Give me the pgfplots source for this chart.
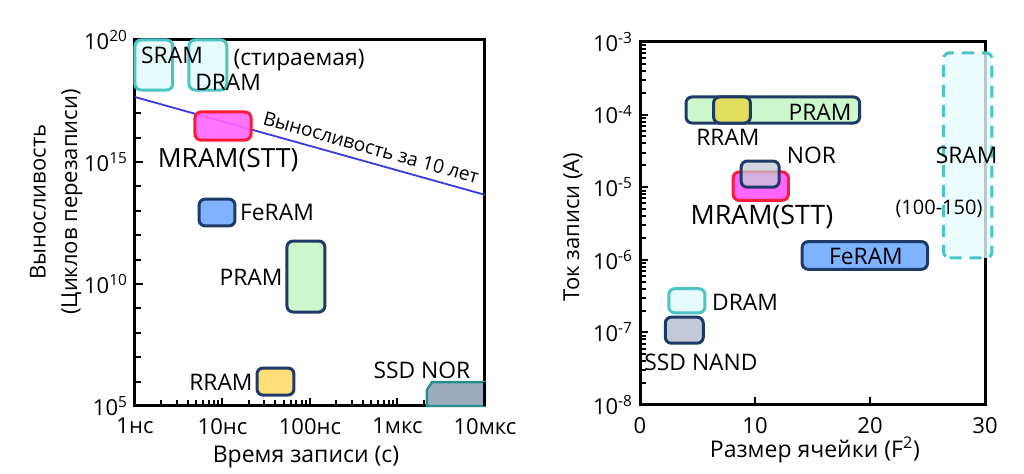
\documentclass[border=0pt]{standalone}
\usepackage{fontspec}
\setmainfont{Open Sans}
\usepackage{pgfplots}
\pgfplotsset{compat=1.18}
\definecolor{cyl}{HTML}{4CC4C4}
\definecolor{cyf}{HTML}{E6FBFB}
\definecolor{navy}{HTML}{1F3A66}
\definecolor{mag}{HTML}{FF66FF}
\definecolor{redl}{HTML}{FF1A3A}
\definecolor{feb}{HTML}{80B3FF}
\definecolor{grn}{HTML}{CCF7CC}
\definecolor{yelL}{HTML}{FFDD77}
\definecolor{yelR}{HTML}{E2DF5E}
\definecolor{gryN}{HTML}{C3CAD6}
\definecolor{gryS}{HTML}{9AABBB}
\definecolor{teal2}{HTML}{2A8C8C}
\definecolor{lineb}{HTML}{3A3AE0}
\newcommand\rbox[5]{\addplot[line width=1.5pt, rounded corners=3pt, #1] coordinates {(#2,#3) (#4,#3) (#4,#5) (#2,#5)} -- cycle;}
\newcommand\lab{\fontsize{11.4}{13}\selectfont}
\begin{document}
\begin{tikzpicture}
\useasboundingbox (0,0) rectangle (512pt,237pt);
\pgfplotsset{
  every axis/.append style={
    scale only axis, anchor=south west, clip=false,
    axis line style={line width=1.5pt},
    tick pos=left, tick align=inside,
    major tick length=4pt, minor tick length=3pt,
    tick style={line width=1pt, black},
    tick label style={font=\fontsize{11}{13}\selectfont},
    xticklabel style={yshift=-2.5pt},
  }
}
% ---------------- left panel ----------------
\begin{axis}[at={(67.5pt,34pt)}, width=175pt, height=183pt,
  xmode=log, ymode=log, xmin=1e-9, xmax=1e-5, ymin=1e5, ymax=1e20,
  xtick={1e-9,1e-8,1e-7,1e-6,1e-5},
  xticklabels={1нс,10нс,100нс,1мкс,10мкс},
  minor xtick={},
  ytick={1e5,1e10,1e15,1e20},
  yticklabels={10\textsuperscript{5},10\textsuperscript{10},10\textsuperscript{15},10\textsuperscript{20}},
  minor ytick={1e6,1e7,1e8,1e9,1e11,1e12,1e13,1e14,1e16,1e17,1e18,1e19},
]
\addplot[line width=0.9pt, lineb] coordinates {(1e-9,4.6e17) (1e-5,4.5e13)};
\rbox{draw=cyl, fill=cyf}{1e-9}{8.9e17}{2.7e-9}{1e20}
\rbox{draw=cyl, fill=cyf}{4.14e-9}{8.9e17}{1.12e-8}{1e20}
\rbox{draw=redl, fill=mag, fill opacity=0.9}{4.85e-9}{7.9e15}{2.12e-8}{1.12e17}
\rbox{draw=navy, fill=feb}{5.4e-9}{2.4e12}{1.39e-8}{3.0e13}
\rbox{draw=navy, fill=grn}{5.46e-8}{7.1e8}{1.48e-7}{5.75e11}
\rbox{draw=navy, fill=yelL}{2.48e-8}{2.8e5}{6.56e-8}{3.6e6}
\addplot[line width=1.2pt, draw=teal2, fill=gryS] coordinates {(2.17e-6,1e5) (2.17e-6,4.6e5) (2.48e-6,9.5e5) (1e-5,9.5e5) (1e-5,1e5)} -- cycle;
\draw[line width=1.5pt] (axis cs:1e-5,1e5) -- (axis cs:1e-5,1e6);
\node[font=\lab] at (axis cs:2.65e-9,2.43e19) {SRAM};
\node[font=\lab] at (axis cs:1.16e-8,1.9e18) {DRAM};
\node[font=\lab] at (axis cs:7.5e-8,1.5e19) {(стираемая)};
\node[font=\fontsize{13.2}{15}\selectfont] at (axis cs:1.16e-8,1.15e15) {MRAM(STT)};
\node[font=\lab] at (axis cs:4.2e-8,8.9e12) {FeRAM};
\node[font=\lab] at (axis cs:2.12e-8,1.8e10) {PRAM};
\node[font=\lab] at (axis cs:9.6e-9,9.5e5) {RRAM};
\node[font=\lab] at (axis cs:1.9e-6,3.0e6) {SSD NOR};
\node[font=\fontsize{9.6}{11}\selectfont, rotate=-15.6] at (axis cs:5.0e-7,3.9e15) {Выносливость за 10 лет};
\end{axis}
\node[rotate=90, font=\fontsize{11}{13}\selectfont] at (19pt,136pt) {Выносливость};
\node[rotate=90, font=\fontsize{11}{13}\selectfont] at (36pt,136pt) {(Циклов перезаписи)};
\node[font=\fontsize{11.5}{13}\selectfont] at (153pt,8.5pt) {Время записи (с)};
% ---------------- right panel ----------------
\begin{axis}[at={(320pt,34.5pt)}, width=172.5pt, height=181.5pt,
  ymode=log, xmin=0, xmax=30, ymin=1e-8, ymax=1e-3,
  xtick={0,10,20,30}, xticklabels={0,10,20,30},
  ytick={1e-8,1e-7,1e-6,1e-5,1e-4,1e-3},
  yticklabels={10\textsuperscript{-8},10\textsuperscript{-7},10\textsuperscript{-6},10\textsuperscript{-5},10\textsuperscript{-4},10\textsuperscript{-3}},
  minor ytick={},
]
\rbox{draw=navy, fill=grn}{4.0}{7.66e-5}{19.1}{1.75e-4}
\rbox{draw=navy, fill=yelR}{6.4}{7.66e-5}{9.6}{1.75e-4}
\rbox{draw=redl, fill=mag}{8.1}{6.6e-6}{12.9}{1.62e-5}
\rbox{draw=navy, fill=gryN, fill opacity=0.75}{8.8}{1.0e-5}{12.1}{2.29e-5}
\rbox{draw=cyl, fill=cyf, fill opacity=0.8, dash pattern=on 6pt off 4pt}{26.4}{1.06e-6}{30.6}{7.1e-4}
\rbox{draw=navy, fill=feb}{14.1}{7.4e-7}{25.0}{1.78e-6}
\rbox{draw=cyl, fill=cyf}{2.5}{1.86e-7}{5.65}{4.0e-7}
\rbox{draw=navy, fill=gryN}{2.2}{7.1e-8}{5.5}{1.62e-7}
\node[font=\lab] at (axis cs:15.65,1.09e-4) {PRAM};
\node[font=\lab] at (axis cs:7.65,4.8e-5) {RRAM};
\node[font=\lab] at (axis cs:14.9,2.78e-5) {NOR};
\node[font=\fontsize{13.4}{15}\selectfont] at (axis cs:10.6,3.9e-6) {MRAM(STT)};
\node[font=\lab] at (axis cs:28.4,2.78e-5) {SRAM};
\node[font=\fontsize{10}{12}\selectfont] at (axis cs:26.0,5.0e-6) {(100-150)};
\node[font=\lab] at (axis cs:19.65,1.13e-6) {FeRAM};
\node[font=\lab] at (axis cs:9.13,2.63e-7) {DRAM};
\node[font=\lab] at (axis cs:5.3,3.9e-8) {SSD NAND};
\end{axis}
\node[rotate=90, font=\fontsize{11}{13}\selectfont] at (286.5pt,123.5pt) {Ток записи (А)};
\node[font=\fontsize{11.5}{13}\selectfont] at (407.5pt,12pt) {Размер ячейки (F\textsuperscript{2})};
\end{tikzpicture}
\end{document}
